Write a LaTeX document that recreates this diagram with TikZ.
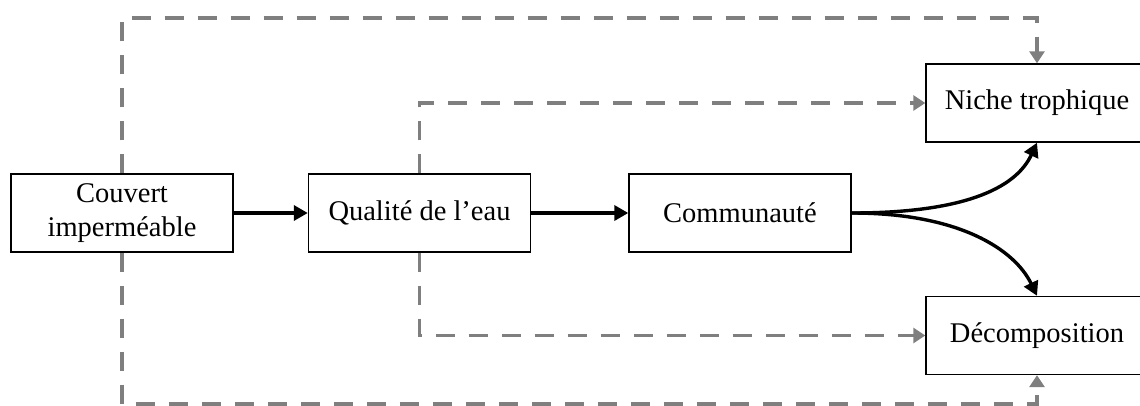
\documentclass[tikz,border=0pt]{standalone}
\usepackage{fontspec}
\setmainfont{Liberation Serif}
\usetikzlibrary{arrows.meta}
\definecolor{dashgray}{HTML}{7F7F7F}
\begin{document}
\begin{tikzpicture}[x=1pt,y=-1pt,
  box/.style={draw=black,line width=1.4pt,minimum width=222pt,minimum height=78pt,
    inner sep=0pt,font=\fontsize{28.5}{34}\selectfont,align=center},
  solidarrow/.style={line width=3.4pt,-{Triangle[length=14pt,width=15pt]}},
  dasharrow/.style={draw=dashgray,line width=3.4pt,dash pattern=on 19pt off 14pt,
    -{Triangle[length=12pt,width=15pt,fill=dashgray]}}]
\useasboundingbox (0,0) rectangle (1140,405);
\node[box] (cov) at (122,213) {Couvert\\imperméable};
\node[box] (qual) at (419.5,213) {Qualité de l’eau};
\node[box] (com) at (740,213) {Communauté};
\node[box] (niche) at (1037,103) {Niche trophique};
\node[box] (dec) at (1037,335.5) {Décomposition};
\coordinate (t1) at (122,18);
\coordinate (t2) at (1037,18);
\coordinate (b1) at (122,404);
\coordinate (b2) at (1037,404);
\coordinate (q1) at (419.5,103);
\coordinate (q2) at (419.5,335.5);
\draw[dasharrow] (cov.north) -- (t1) -- (t2) -- (niche.north);
\draw[dasharrow] (cov.south) -- (b1) -- (b2) -- (dec.south);
\draw[dasharrow] (qual.north) -- (q1) -- (niche.west);
\draw[dasharrow] (qual.south) -- (q2) -- (dec.west);
\draw[solidarrow] (cov.east) -- (qual.west);
\draw[solidarrow] (qual.east) -- (com.west);
\draw[solidarrow] (com.east) .. controls (960,213) and (1015,190) .. (niche.south);
\draw[solidarrow] (com.east) .. controls (960,213) and (1015,250) .. (dec.north);
\end{tikzpicture}
\end{document}
